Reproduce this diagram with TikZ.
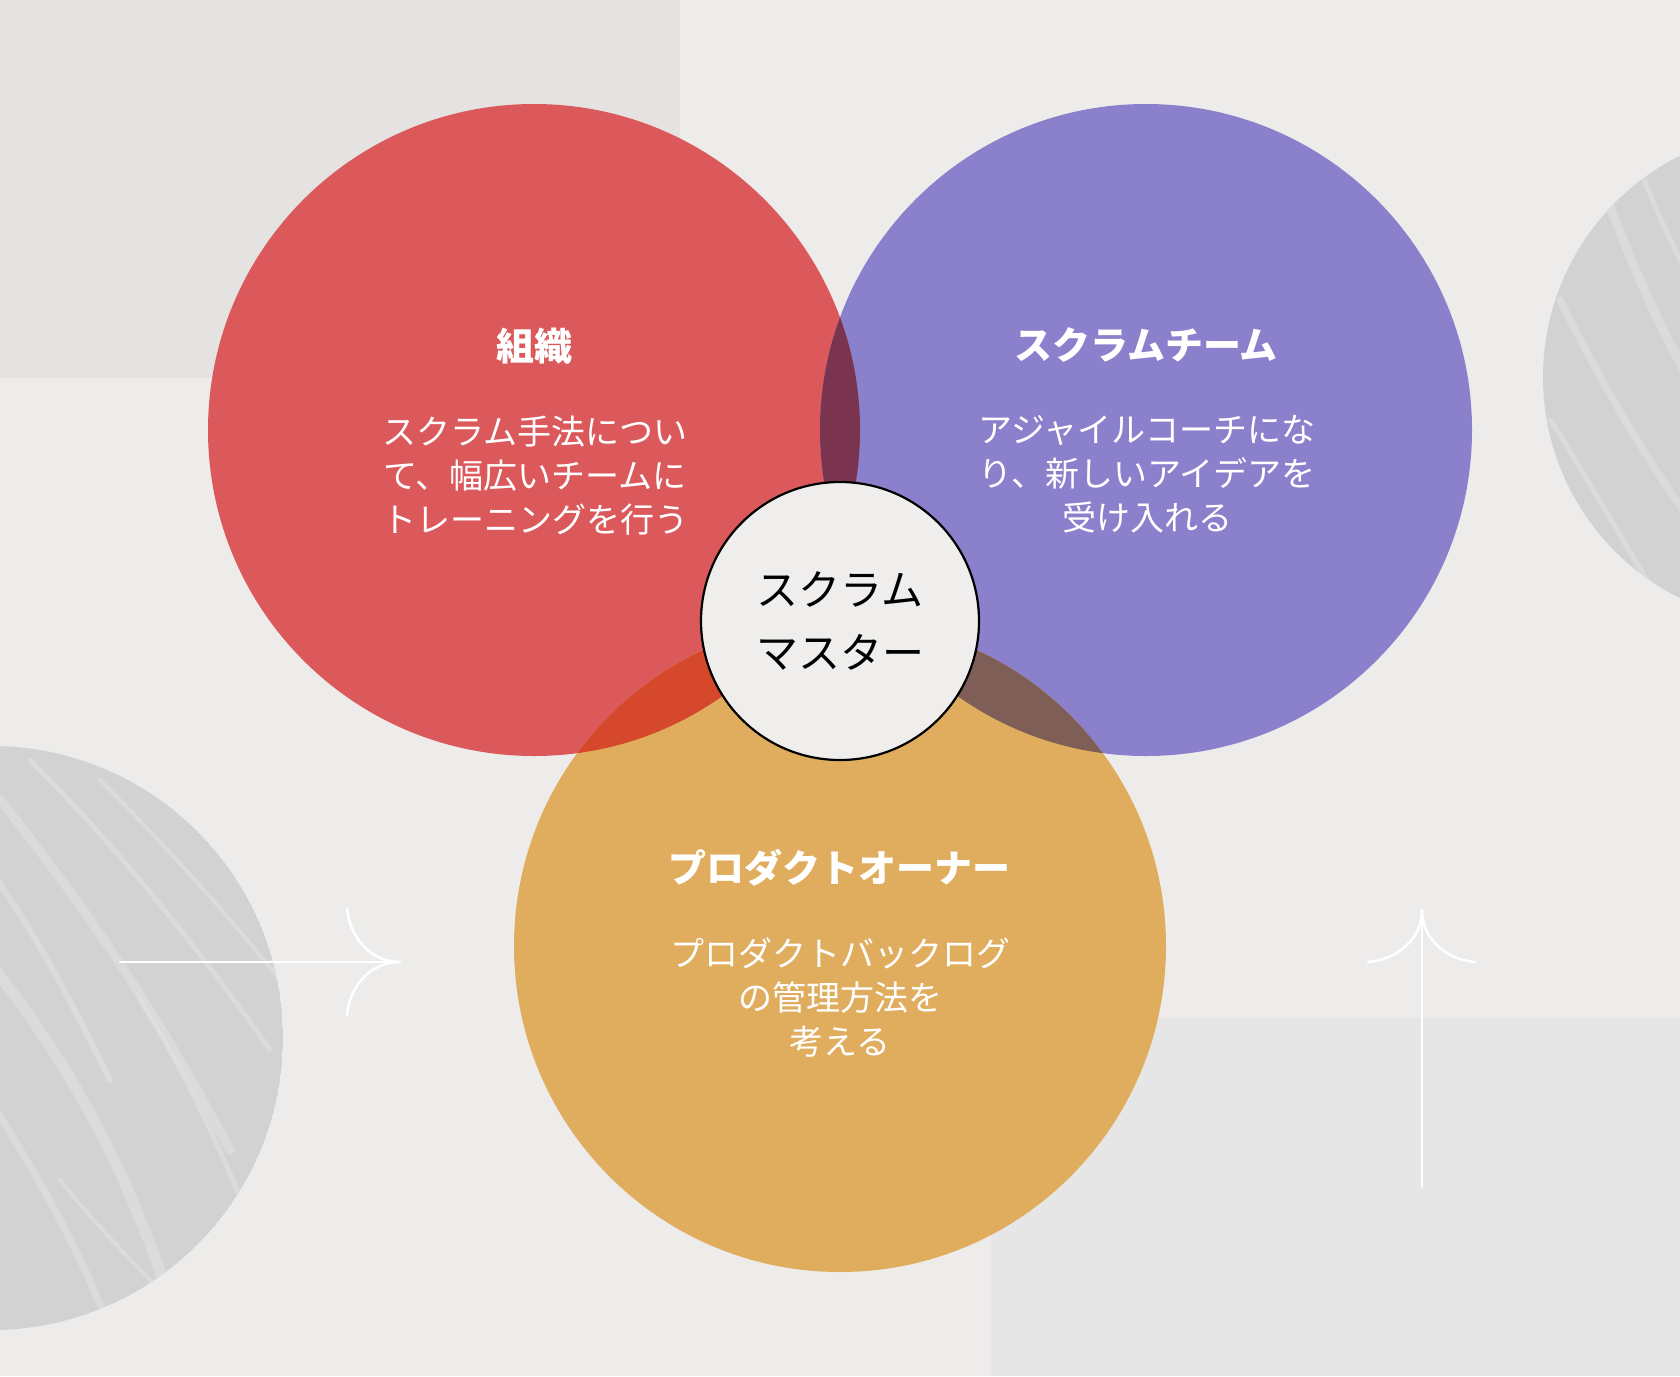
\documentclass[tikz,border=0pt]{standalone}
\usepackage{fontspec}
\newfontfamily\jp{Noto Sans CJK JP}
\definecolor{bgbase}{RGB}{237,236,235}
\definecolor{bgtl}{RGB}{228,227,226}
\definecolor{bgbr}{RGB}{230,230,230}
\definecolor{cred}{RGB}{219,89,91}
\definecolor{cblue}{RGB}{138,128,204}
\definecolor{corange}{RGB}{224,173,95}
\definecolor{crb}{RGB}{123,52,80}
\definecolor{cro}{RGB}{214,72,44}
\definecolor{cbo}{RGB}{127,94,87}
\definecolor{ccenter}{RGB}{239,238,237}
\definecolor{gdeco}{RGB}{210,210,210}
\definecolor{gstreak}{RGB}{226,226,226}
\begin{document}
\begin{tikzpicture}[x=1pt,y=-1pt,
  titletext/.style={text=white, font=\jp\bfseries\fontsize{38}{46}\selectfont, inner sep=0pt},
  bodytext/.style={text=white, font=\jp\fontsize{34}{44}\selectfont, align=center, inner sep=0pt},
  centertext/.style={text=black, font=\jp\fontsize{42}{63}\selectfont, align=center, inner sep=0pt},
  wline/.style={draw=white, line width=2.5pt, line cap=round},
  streak/.style={draw=gstreak, line cap=round, opacity=0.6}]
\useasboundingbox (0,0) rectangle (1680,1376);
% background
\fill[bgbase] (0,0) rectangle (1680,1376);
\fill[bgtl] (0,0) rectangle (680,378);
\fill[bgbr] (991,1018) rectangle (1680,1376);
% decorative grey circles
\begin{scope}
  \clip (-9,1038) circle[radius=292pt];
  \fill[gdeco] (-9,1038) circle[radius=292pt];
  \draw[streak, line width=9pt] (0,800) .. controls (80,900) and (150,1000) .. (230,1150);
  \draw[streak, line width=5pt] (30,760) .. controls (120,850) and (200,950) .. (270,1050);
  \draw[streak, line width=11pt] (-20,950) .. controls (60,1050) and (120,1150) .. (170,1300);
  \draw[streak, line width=4pt] (100,780) .. controls (180,860) and (240,930) .. (280,980);
  \draw[streak, line width=7pt] (-10,1100) .. controls (40,1180) and (80,1250) .. (110,1330);
  \draw[streak, line width=5pt] (140,1000) .. controls (190,1080) and (220,1150) .. (250,1220);
  \draw[streak, line width=4pt] (60,1180) .. controls (100,1230) and (140,1270) .. (180,1310);
  \draw[streak, line width=6pt] (-10,870) .. controls (40,940) and (70,1000) .. (110,1080);
\end{scope}
\begin{scope}
  \clip (1790,377) circle[radius=247pt];
  \fill[gdeco] (1790,377) circle[radius=247pt];
  \draw[streak, line width=7pt] (1560,300) .. controls (1600,380) and (1640,450) .. (1690,520);
  \draw[streak, line width=9pt] (1600,180) .. controls (1630,260) and (1660,330) .. (1690,380);
  \draw[streak, line width=5pt] (1550,420) .. controls (1590,480) and (1620,540) .. (1660,600);
  \draw[streak, line width=5pt] (1630,140) .. controls (1650,200) and (1670,240) .. (1690,280);
\end{scope}
% main circles
\fill[cred] (534,430) circle[radius=326pt];
\fill[cblue] (1146,430) circle[radius=326pt];
\fill[corange] (840,946) circle[radius=326pt];
% overlaps
\begin{scope}
  \clip (534,430) circle[radius=326pt];
  \fill[crb] (1146,430) circle[radius=326pt];
  \fill[cro] (840,946) circle[radius=326pt];
\end{scope}
\begin{scope}
  \clip (1146,430) circle[radius=326pt];
  \fill[cbo] (840,946) circle[radius=326pt];
\end{scope}
% center circle
\node[circle, draw=black, line width=2.2pt, fill=ccenter, minimum size=278pt, inner sep=0pt] (sm) at (840,621) {};
\node[centertext] (smtext) at (840,621) {スクラム\\マスター};
% labels
\node[titletext] (orgt) at (534,346) {組織};
\node[bodytext] (orgb) at (535,476) {スクラム手法につい\\て、幅広いチームに\\トレーニングを行う};
\node[titletext] (teamt) at (1146,345) {スクラムチーム};
\node[bodytext] (teamb) at (1147,474) {アジャイルコーチにな\\り、新しいアイデアを\\受け入れる};
\node[titletext] (pot) at (839,868) {プロダクトオーナー};
\node[bodytext] (pob) at (840,998) {プロダクトバックログ\\の管理方法を\\考える};
% arrows
\coordinate (la0) at (120,962);
\coordinate (la1) at (400,962);
\coordinate (law1) at (347,908);
\coordinate (law2) at (347,1015);
\draw[wline] (la0) -- (la1);
\draw[wline] (law1) to[out=-85,in=180] (la1);
\draw[wline] (law2) to[out=85,in=180] (la1);
\coordinate (ua0) at (1422,1187);
\coordinate (ua1) at (1422,910);
\coordinate (uaw1) at (1368,962);
\coordinate (uaw2) at (1475,962);
\draw[wline] (ua0) -- (ua1);
\draw[wline] (uaw1) to[out=5,in=-90] (ua1);
\draw[wline] (uaw2) to[out=175,in=-90] (ua1);
\end{tikzpicture}
\end{document}
